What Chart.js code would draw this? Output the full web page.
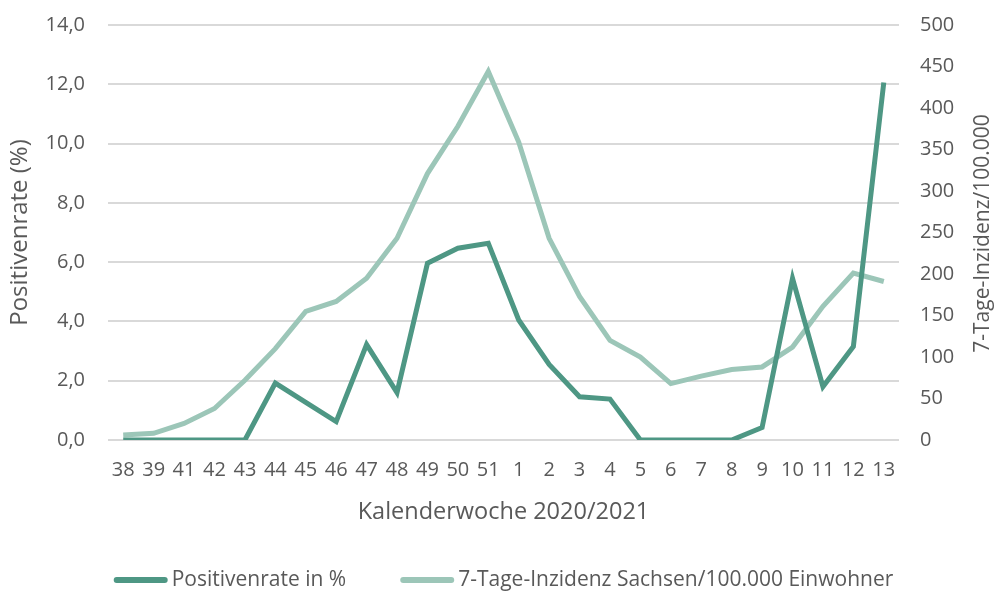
<!DOCTYPE html>
<html>
<head>
<meta charset="utf-8">
<script src="https://cdn.jsdelivr.net/npm/chart.js@4"></script>
<style>
  html, body { margin: 0; padding: 0; background: #fff; }
  #wrap { width: 995px; height: 592px; }
</style>
</head>
<body>
<div id="wrap"><canvas id="chart" width="995" height="592"></canvas></div>
<script>
// Kalenderwochen 2020/2021
const weeks = ["38","39","41","42","43","44","45","46","47","48","49","50","51","1","2","3","4","5","6","7","8","9","10","11","12","13"];

// Positivenrate in %
const positivenrate = [0,0,0,0,0,1.92,1.27,0.62,3.22,1.6,5.96,6.47,6.64,4.05,2.55,1.46,1.38,0,0,0,0,0.42,5.45,1.8,3.15,12.06];

// 7-Tage-Inzidenz Sachsen/100.000 Einwohner
const inzidenz = [6,8,20,38,72,110,155,167,195,243,321,378,444,359,243,173,120,100,68,77,85,88,112,161,201,191];

const textColor = "#595959";
const fontFamily = "'Open Sans', sans-serif";

// right axis title, drawn bottom-to-top like in Excel
const rightTitle = {
    id: "rightTitle",
    afterDraw(chart) {
        const c = chart.ctx;
        const area = chart.chartArea;
        c.save();
        c.fillStyle = textColor;
        c.font = "21px " + fontFamily;
        c.textAlign = "center";
        c.textBaseline = "middle";
        c.translate(983, (area.top + area.bottom) / 2 + 1);
        c.rotate(-Math.PI / 2);
        c.fillText("7-Tage-Inzidenz/100.000", 0, 0);
        c.restore();
    }
};

// legend with long line markers
const lineLegend = {
    id: "lineLegend",
    afterDraw(chart) {
        const c = chart.ctx;
        const area = chart.chartArea;
        const lineLen = 54, textGap = 4, itemGap = 54, y = 580;
        c.save();
        c.font = "21px " + fontFamily;
        c.textBaseline = "middle";
        const sets = chart.data.datasets;
        let total = 0;
        sets.forEach((ds, i) => {
            total += lineLen + textGap + c.measureText(ds.label).width;
            if (i < sets.length - 1) total += itemGap;
        });
        let x = (area.left + area.right) / 2 - total / 2;
        sets.forEach(ds => {
            c.strokeStyle = ds.borderColor;
            c.lineWidth = 6;
            c.lineCap = "round";
            c.beginPath();
            c.moveTo(x + 3, y);
            c.lineTo(x + lineLen - 3, y);
            c.stroke();
            x += lineLen + textGap;
            c.fillStyle = textColor;
            c.fillText(ds.label, x, y);
            x += c.measureText(ds.label).width + itemGap;
        });
        c.restore();
    }
};

let ctx = document.getElementById("chart").getContext("2d");

let data = {
    labels: weeks,
    datasets: [
        {
            label: "Positivenrate in %",
            data: positivenrate,
            yAxisID: "y",
            borderColor: "#4e9784",
            backgroundColor: "#4e9784",
            borderWidth: 5,
            pointRadius: 0,
            tension: 0
        },
        {
            label: "7-Tage-Inzidenz Sachsen/100.000 Einwohner",
            data: inzidenz,
            yAxisID: "y1",
            borderColor: "#9cc6b8",
            backgroundColor: "#9cc6b8",
            borderWidth: 5,
            pointRadius: 0,
            tension: 0
        }
    ]
};

let options = {
    responsive: false,
    animation: false,
    layout: { padding: { left: 0, right: 0, top: 25, bottom: 40 } },
    plugins: {
        legend: { display: false },
        tooltip: { enabled: false }
    },
    scales: {
        x: {
            offset: true,
            grid: { display: false },
            border: { display: false },
            ticks: {
                color: textColor,
                font: { family: fontFamily, size: 20 },
                maxRotation: 0,
                autoSkip: false,
                padding: 10
            },
            title: {
                display: true,
                text: "Kalenderwoche 2020/2021",
                color: textColor,
                font: { family: fontFamily, size: 23.5 },
                padding: { top: 0, bottom: 26 }
            },
            afterFit: scale => { scale.height = 112; }
        },
        y: {
            position: "left",
            min: 0,
            max: 14,
            grid: { color: "#d9d9d9", lineWidth: 2, tickLength: 20, tickColor: "rgba(0,0,0,0)" },
            border: { display: false },
            ticks: {
                stepSize: 2,
                color: textColor,
                font: { family: fontFamily, size: 20 },
                padding: 3,
                callback: v => v.toFixed(1).replace(".", ",")
            },
            title: {
                display: true,
                text: "Positivenrate (%)",
                color: textColor,
                font: { family: fontFamily, size: 24 },
                padding: { top: 6 }
            },
            afterFit: scale => { scale.width = 108; }
        },
        y1: {
            position: "right",
            min: 0,
            max: 500,
            grid: { drawOnChartArea: false, tickLength: 18, tickColor: "rgba(0,0,0,0)" },
            border: { display: false },
            ticks: {
                stepSize: 50,
                color: textColor,
                font: { family: fontFamily, size: 20 },
                padding: 3
            },
            afterFit: scale => { scale.width = 96; }
        }
    }
};

new Chart(ctx, {
    type: "line",
    data: data,
    options: options,
    plugins: [rightTitle, lineLegend]
});
</script>
</body>
</html>
